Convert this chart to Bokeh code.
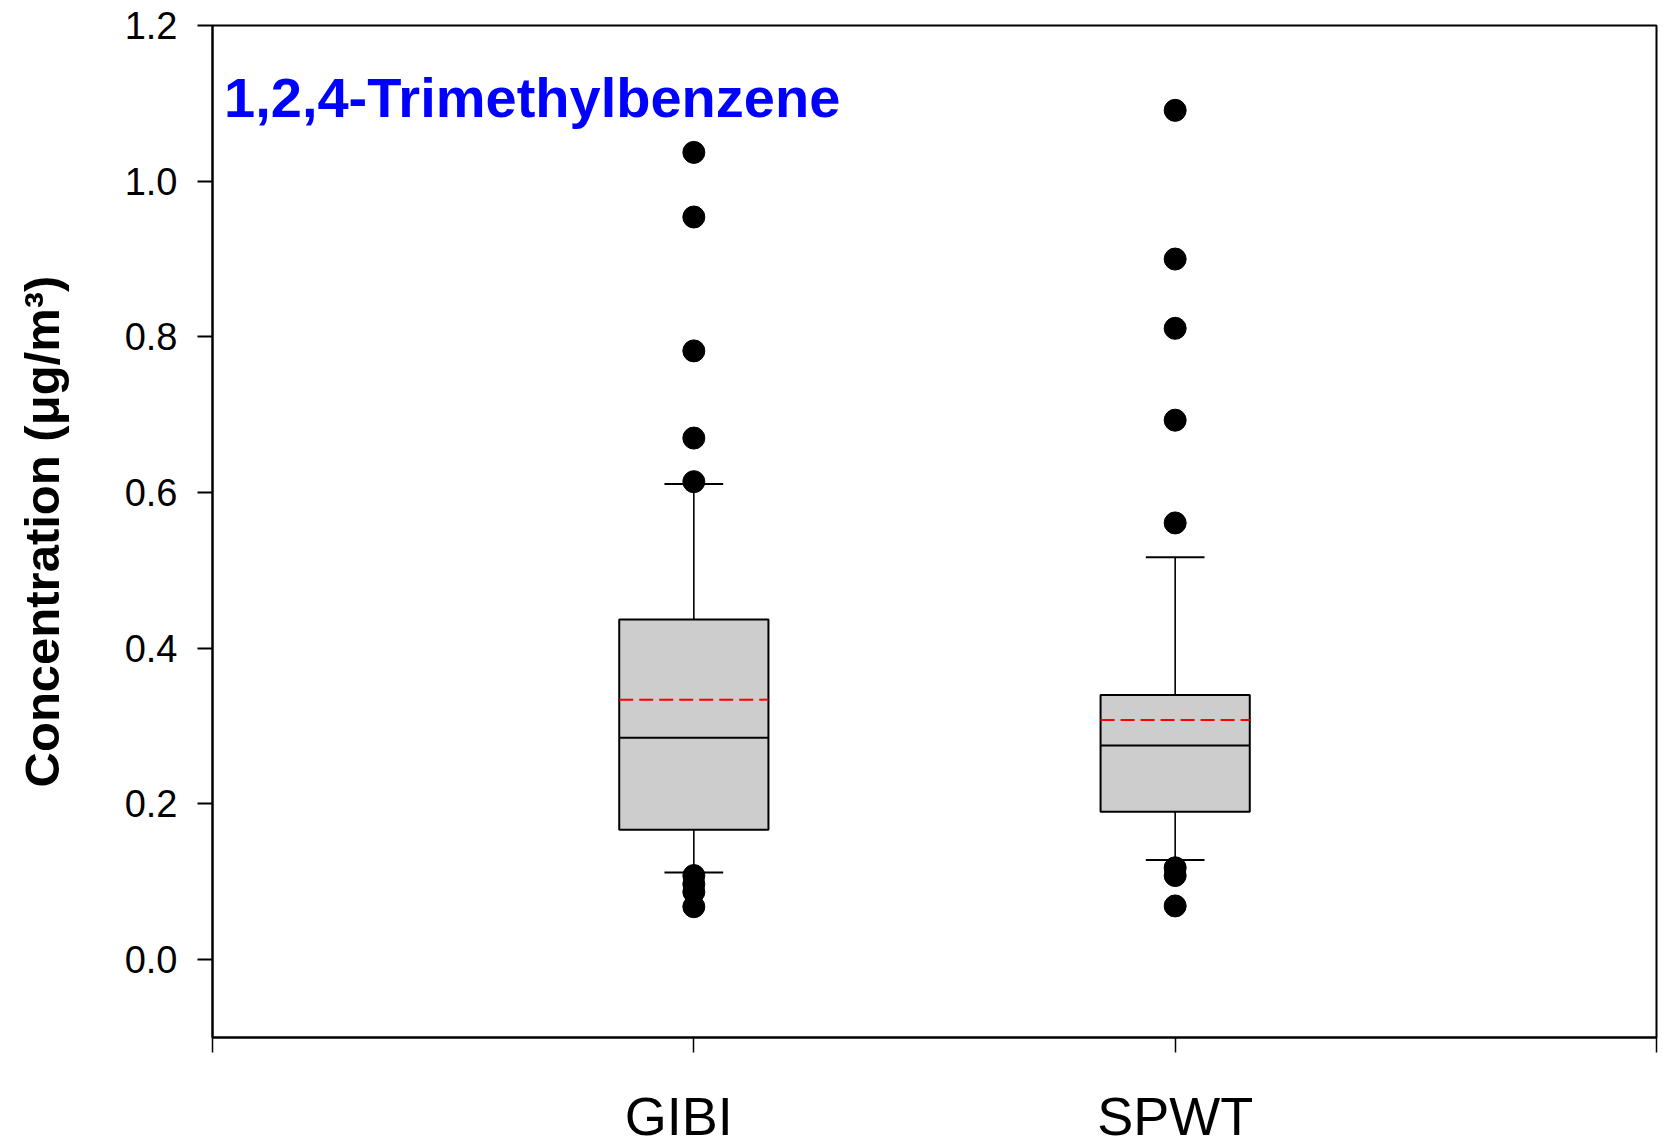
from bokeh.plotting import figure
from bokeh.models import FixedTicker, Label, ColumnDataSource, Range1d
from bokeh.embed import file_html
from bokeh.resources import INLINE

# ---- data ----
categories = ["GIBI", "SPWT"]
q1 = [0.167, 0.190]
median = [0.285, 0.275]
q3 = [0.437, 0.340]
mean = [0.334, 0.308]
whisker_low = [0.112, 0.128]
whisker_high = [0.611, 0.517]
outliers_gibi = [1.037, 0.954, 0.782, 0.670, 0.614, 0.108, 0.097, 0.087, 0.068]
outliers_spwt = [1.091, 0.900, 0.811, 0.693, 0.561, 0.118, 0.108, 0.069]
y_ticks = [0.0, 0.2, 0.4, 0.6, 0.8, 1.0, 1.2]
title_text = "1,2,4-Trimethylbenzene"
y_label = "Concentration (\u03bcg/m\u00b3)"

FONT = "Liberation Sans"
BOX_W = 0.31
CAP_W = 0.122

pos = [i + 1 for i in range(len(categories))]

p = figure(width=1658, height=1148, output_backend="svg", toolbar_location=None,
           x_range=Range1d(0, len(categories) + 1), y_range=Range1d(-0.1, 1.2),
           min_border_left=212, min_border_right=2, min_border_top=25, min_border_bottom=111)
p.background_fill_color = "white"
p.border_fill_color = "white"
p.xgrid.visible = False
p.ygrid.visible = False
p.outline_line_color = "black"
p.outline_line_width = 2

src = ColumnDataSource(dict(x=pos, q1=q1, q3=q3, med=median, mean=mean, wl=whisker_low, wh=whisker_high,
                            x0=[x - BOX_W / 2 for x in pos], x1=[x + BOX_W / 2 for x in pos],
                            c0=[x - CAP_W / 2 for x in pos], c1=[x + CAP_W / 2 for x in pos]))

# whiskers
p.segment(x0="x", y0="q3", x1="x", y1="wh", source=src, line_color="black", line_width=1.6)
p.segment(x0="x", y0="q1", x1="x", y1="wl", source=src, line_color="black", line_width=1.6)
# caps
p.segment(x0="c0", y0="wh", x1="c1", y1="wh", source=src, line_color="black", line_width=2)
p.segment(x0="c0", y0="wl", x1="c1", y1="wl", source=src, line_color="black", line_width=2)
# box
p.vbar(x="x", width=BOX_W, top="q3", bottom="q1", source=src, fill_color="#cdcdcd",
       line_color="black", line_width=2)
# median
p.segment(x0="x0", y0="med", x1="x1", y1="med", source=src, line_color="black", line_width=2)
# mean
p.segment(x0="x0", y0="mean", x1="x1", y1="mean", source=src, line_color="#ff0000",
          line_width=2, line_dash="14 6")

# outliers
ox = [pos[0]] * len(outliers_gibi) + [pos[1]] * len(outliers_spwt)
oy = outliers_gibi + outliers_spwt
p.scatter(x=ox, y=oy, size=22, marker="circle", fill_color="black", line_color="black")

# title inside plot
p.add_layout(Label(x=0.024, y=1.107, text=title_text, text_font=FONT, text_font_style="bold",
                   text_font_size="56px", text_color="#0000ff", text_baseline="alphabetic"))

# axes
xa = p.xaxis[0]
xa.ticker = FixedTicker(ticks=[0] + pos + [len(categories) + 1])
labels = {x: c for x, c in zip(pos, categories)}
labels[pos[0]] = categories[0] + "\u00a0\u00a0"  # reference label sits slightly left of its tick
xa.major_label_overrides = {0: "", len(categories) + 1: "", **labels}
xa.major_tick_in = 0
xa.major_tick_out = 15
xa.major_tick_line_width = 1.5
xa.minor_tick_line_color = None
xa.axis_line_width = 2
xa.major_label_text_font = FONT
xa.major_label_text_font_size = "54px"
xa.major_label_text_color = "black"
xa.major_label_standoff = 33

ya = p.yaxis[0]
ya.ticker = FixedTicker(ticks=y_ticks)
ya.major_label_overrides = {t: f"{t:.1f}" for t in y_ticks}
ya.major_tick_in = 0
ya.major_tick_out = 15
ya.major_tick_line_width = 2
ya.minor_tick_line_color = None
ya.axis_line_width = 2
ya.major_label_text_font = FONT
ya.major_label_text_font_size = "38px"
ya.major_label_text_color = "black"
ya.major_label_standoff = 20
ya.axis_label = y_label
ya.axis_label_text_font = FONT
ya.axis_label_text_font_style = "bold"
ya.axis_label_text_font_size = "49px"
ya.axis_label_text_color = "black"
ya.axis_label_standoff = 53

open("out.html", "w").write(file_html(p, INLINE))
